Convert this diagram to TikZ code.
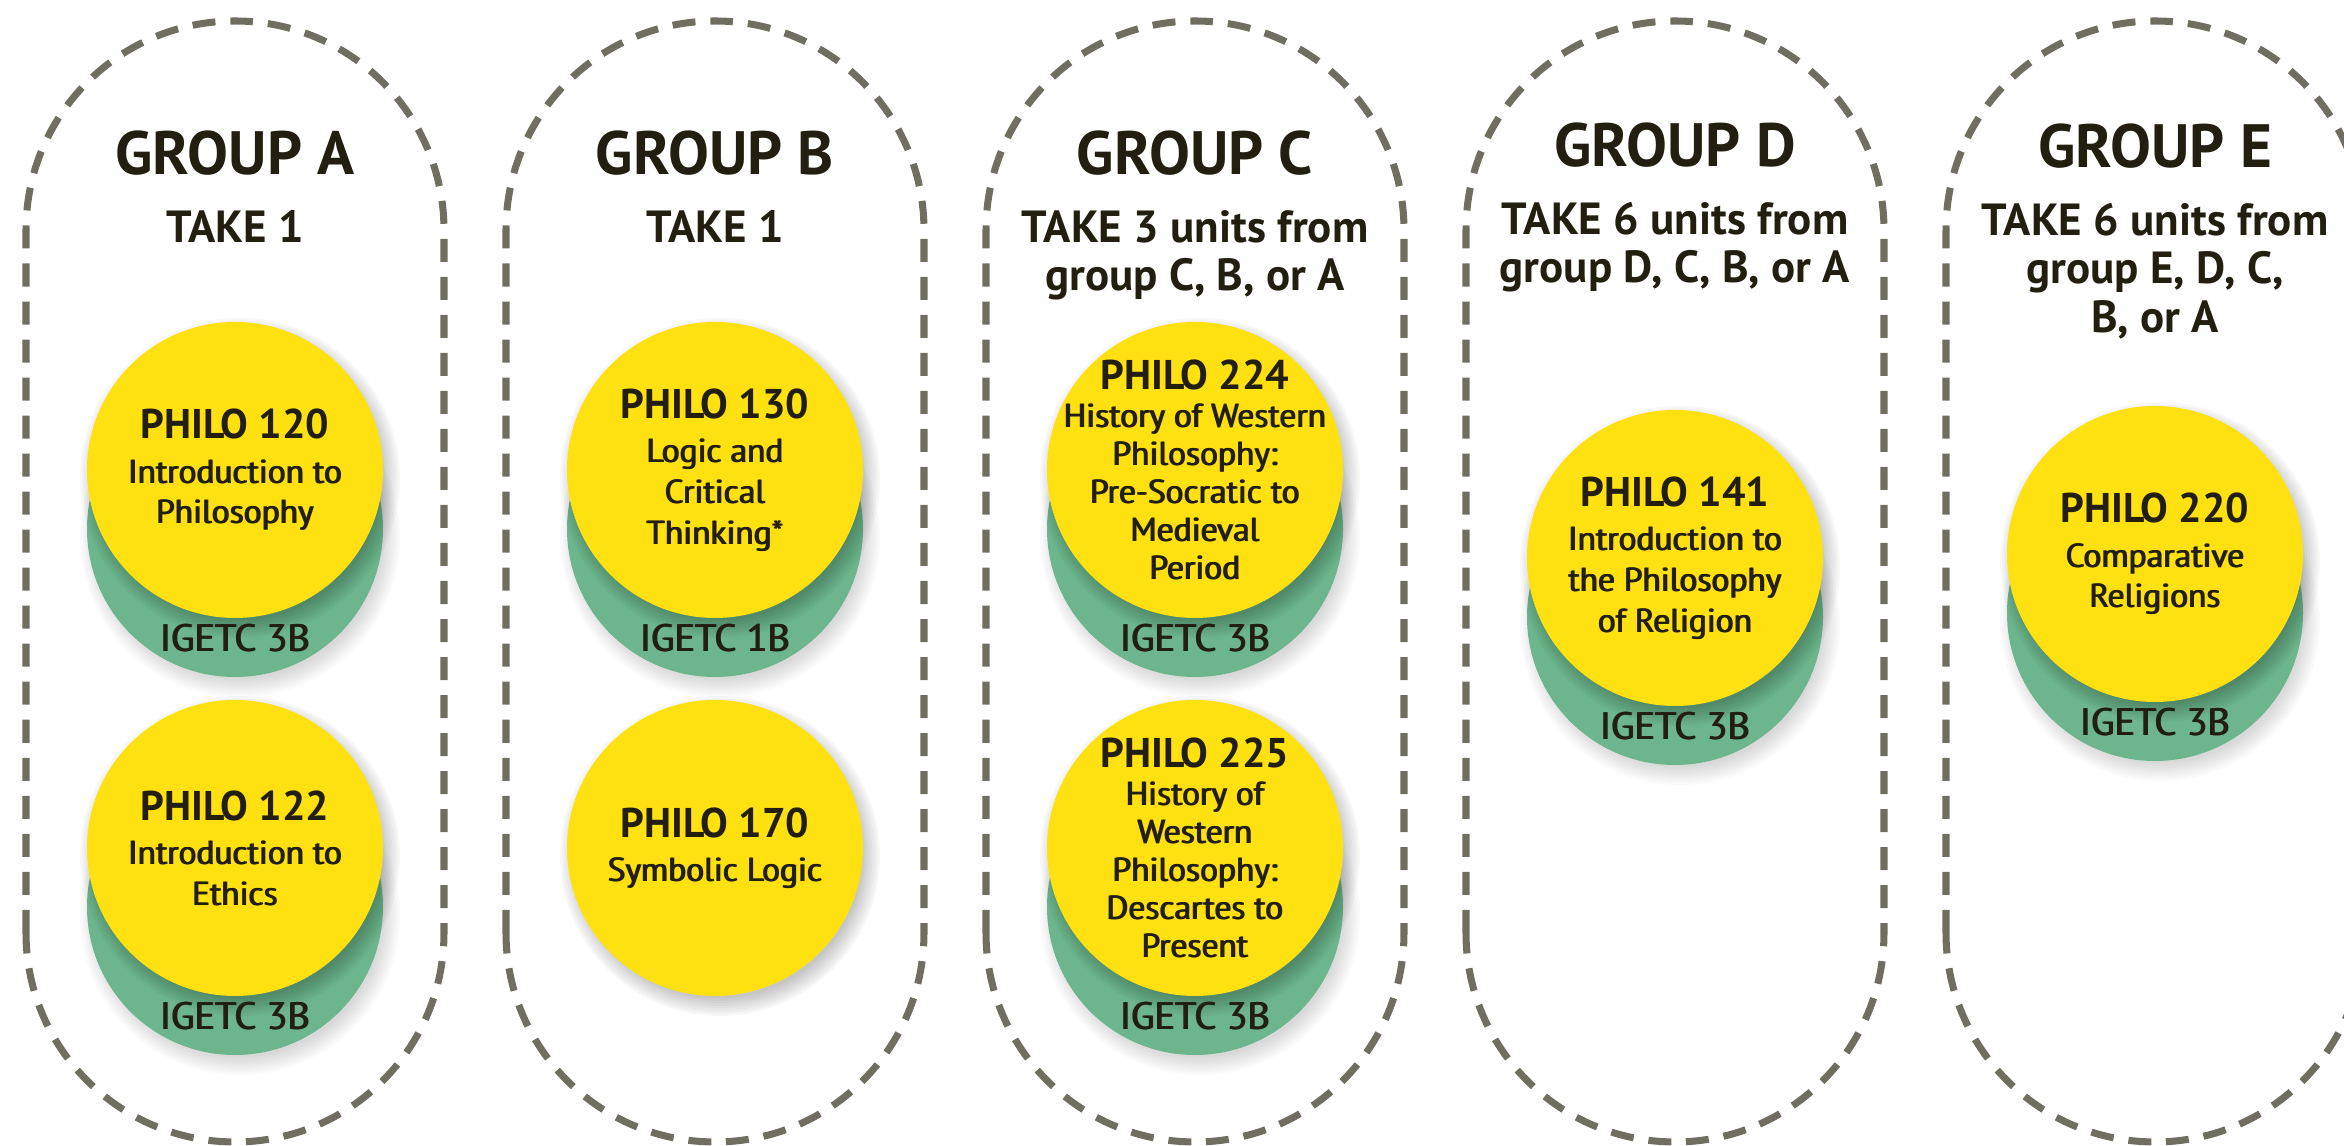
\documentclass[tikz,border=0pt]{standalone}
\usepackage{fontspec}
\setmainfont{PT Sans}
\usepackage{xcolor}
\usetikzlibrary{positioning}

\definecolor{philoyellow}{RGB}{255,224,17}
\definecolor{igetcgreen}{RGB}{109,182,141}
\definecolor{dashgray}{RGB}{112,110,96}
\definecolor{ink}{RGB}{35,31,16}
\newcommand{\philo}[1]{{\bfseries\fontsize{11.8}{12}\selectfont #1}}
% semibold look: the line set twice, a hair apart
\newcommand{\sline}[1]{\rlap{#1}\kern0.4pt#1}

\begin{document}
\begin{tikzpicture}[x=0.01cm,y=0.01cm,
  grp/.style={draw=dashgray,line width=2pt,dash pattern=on 0.23cm off 0.15cm,rounded corners=2.09cm},
  head/.style={font=\bfseries\fontsize{17.4}{20}\selectfont,text=ink,inner sep=0pt,anchor=base},
  take/.style={font=\bfseries\fontsize{12.8}{13.8}\selectfont,text=ink,inner sep=0pt,align=center},
  course/.style={align=center,text=ink,inner sep=0pt,font=\fontsize{9.5}{11.6}\selectfont},
  igetc/.style={font=\fontsize{10.9}{13}\selectfont,text=ink,inner sep=0pt},
  shadowdisc/.style={fill=black,opacity=0.03}]
  \useasboundingbox (0,0) rectangle (2344,1146);
  \clip (0,0) rectangle (2344,1146);

  % dashed group outlines
  \foreach \cx in {235,715,1195,1675,2155}
    \draw[grp] (\cx-209,4) rectangle (\cx+209,1125);

  % headings
  \node (hA) [head] at (235,971) {GROUP A};
  \node (tA) [take,below=0.33cm of hA] {TAKE 1};
  \node (hB) [head] at (715,971) {GROUP B};
  \node (tB) [take,below=0.33cm of hB] {TAKE 1};
  \node (hC) [head] at (1195,971) {GROUP C};
  \node (tC) [take,below=0.33cm of hC] {TAKE 3 units from\\group C, B, or A};
  \node (hD) [head] at (1675,979) {GROUP D};
  \node (tD) [take,below=0.33cm of hD] {TAKE 6 units from\\group D, C, B, or A};
  \node (hE) [head] at (2155,978) {GROUP E};
  \node (tE) [take,below=0.33cm of hE] {TAKE 6 units from\\group E, D, C,\\B, or A};

  % course discs
  \coordinate (c120) at (235,676);
  \coordinate (c122) at (235,298);
  \coordinate (c130) at (715,676);
  \coordinate (c170) at (715,298);
  \coordinate (c224) at (1195,676);
  \coordinate (c225) at (1195,298);
  \coordinate (c141) at (1675,588);
  \coordinate (c220) at (2155,592);

  \foreach \n/\hasg in {c120/1,c122/1,c130/1,c170/0,c224/1,c225/1,c141/1,c220/1}{
    \ifnum\hasg=1
      \foreach \k in {1,...,8}
        \fill[shadowdisc,opacity=0.02] ([xshift=0.05cm,yshift=-0.67cm]\n) circle[radius=140+2.5*\k];
      \fill[igetcgreen] ([yshift=-0.59cm]\n) circle[radius=148];
    \fi
    \foreach \k in {1,...,8}
      \fill[shadowdisc] ([xshift=0.05cm,yshift=-0.08cm]\n) circle[radius=140+2.5*\k];
    \fill[philoyellow] (\n) circle[radius=148];
  }

  % course texts
  \node (p120) [course] at (c120) {\philo{PHILO 120}\\[1pt]\sline{Introduction to}\\\sline{Philosophy}};
  \node (p122) [course] at (c122) {\philo{PHILO 122}\\[1pt]\sline{Introduction to}\\\sline{Ethics}};
  \node (p130) [course] at (c130) {\philo{PHILO 130}\\[1pt]\sline{Logic and}\\\sline{Critical}\\\sline{Thinking*}};
  \node (p170) [course] at (c170) {\philo{PHILO 170}\\[1pt]\sline{Symbolic Logic}};
  \node (p224) [course,font=\fontsize{9.5}{10.8}\selectfont] at (c224)
    {\philo{PHILO 224}\\\sline{History of Western}\\\sline{Philosophy:}\\\sline{Pre-Socratic to}\\\sline{Medieval}\\\sline{Period}};
  \node (p225) [course,font=\fontsize{9.5}{10.8}\selectfont] at (c225)
    {\philo{PHILO 225}\\\sline{History of}\\\sline{Western}\\\sline{Philosophy:}\\\sline{Descartes to}\\\sline{Present}};
  \node (p141) [course] at (c141) {\philo{PHILO 141}\\[1pt]\sline{Introduction to}\\\sline{the Philosophy}\\\sline{of Religion}};
  \node (p220) [course] at (c220) {\philo{PHILO 220}\\[1pt]\sline{Comparative}\\\sline{Religions}};

  % igetc areas
  \node (g120) [igetc] at ([yshift=-1.68cm]c120) {\sline{IGETC 3B}};
  \node (g122) [igetc] at ([yshift=-1.68cm]c122) {\sline{IGETC 3B}};
  \node (g130) [igetc] at ([yshift=-1.68cm]c130) {\sline{IGETC 1B}};
  \node (g224) [igetc] at ([yshift=-1.68cm]c224) {\sline{IGETC 3B}};
  \node (g225) [igetc] at ([yshift=-1.68cm]c225) {\sline{IGETC 3B}};
  \node (g141) [igetc] at ([yshift=-1.68cm]c141) {\sline{IGETC 3B}};
  \node (g220) [igetc] at ([yshift=-1.68cm]c220) {\sline{IGETC 3B}};
\end{tikzpicture}
\end{document}
